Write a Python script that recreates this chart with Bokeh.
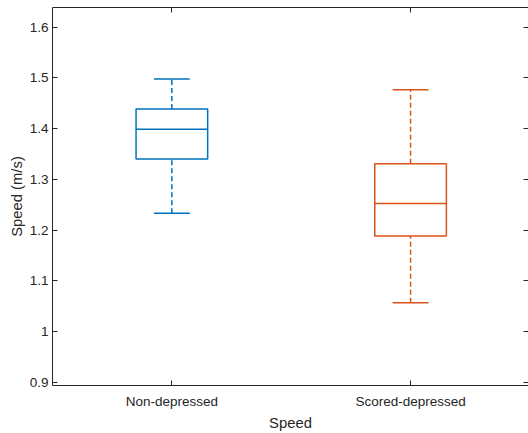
from bokeh.plotting import figure
from bokeh.models import ColumnDataSource, Range1d, FixedTicker, LinearAxis, CustomJSTickFormatter
from bokeh.transform import dodge
from bokeh.embed import file_html
from bokeh.resources import INLINE

# Data
categories = ["Non-depressed", "Scored-depressed"]
positions = [1, 2]
lower_whisker = [1.2336, 1.0573]
q1 = [1.340, 1.1886]
median = [1.399, 1.2526]
q3 = [1.4387, 1.331]
upper_whisker = [1.498, 1.4766]
colors = ["#0072BD", "#D95319"]
y_ticks = [0.9, 1.0, 1.1, 1.2, 1.3, 1.4, 1.5, 1.6]
y_tick_labels = ["0.9", "1", "1.1", "1.2", "1.3", "1.4", "1.5", "1.6"]

src = ColumnDataSource(dict(x=positions, lo=lower_whisker, q1=q1, med=median,
                            q3=q3, hi=upper_whisker, color=colors))

AX = "#262626"
FONT = "Liberation Sans"

p = figure(width=528, height=433, output_backend="svg", toolbar_location=None,
           x_range=Range1d(0.5, 2.494), y_range=Range1d(0.8941, 1.6386),
           min_border_left=52, min_border_right=0, min_border_top=7,
           min_border_bottom=46, background_fill_color="white",
           border_fill_color="white")
p.outline_line_color = None
p.grid.visible = False

BOX_W = 0.3
CAP_W = 0.15
LW = 1.5

# whiskers
p.segment(x0="x", x1="x", y0="q3", y1="hi", source=src, line_color="color",
          line_width=LW, line_dash="5 3")
p.segment(x0="x", x1="x", y0="lo", y1="q1", source=src, line_color="color",
          line_width=LW, line_dash="5 3")
# caps
p.segment(x0=dodge("x", -CAP_W / 2), x1=dodge("x", CAP_W / 2), y0="hi", y1="hi",
          source=src, line_color="color", line_width=LW)
p.segment(x0=dodge("x", -CAP_W / 2), x1=dodge("x", CAP_W / 2), y0="lo", y1="lo",
          source=src, line_color="color", line_width=LW)
# box
p.vbar(x="x", width=BOX_W, bottom="q1", top="q3", source=src, fill_color=None,
       line_color="color", line_width=LW)
# median
p.segment(x0=dodge("x", -BOX_W / 2), x1=dodge("x", BOX_W / 2), y0="med", y1="med",
          source=src, line_color="color", line_width=LW)

def style(ax):
    ax.axis_line_color = AX
    ax.axis_line_width = 1
    ax.major_tick_line_color = AX
    ax.major_tick_out = 0
    ax.major_tick_in = 5
    ax.minor_tick_line_color = None
    ax.major_label_text_color = AX
    ax.major_label_text_font = FONT
    ax.major_label_text_font_size = "13.5px"
    ax.axis_label_text_color = AX
    ax.axis_label_text_font = FONT
    ax.axis_label_text_font_size = "14.8px"
    ax.axis_label_text_font_style = "normal"

xa = p.xaxis[0]
style(xa)
xa.ticker = FixedTicker(ticks=positions)
xa.major_label_overrides = {pos: lab for pos, lab in zip(positions, categories)}
xa.axis_label = "Speed"
xa.major_label_standoff = 8
xa.axis_label_standoff = 3

ya = p.yaxis[0]
style(ya)
ya.ticker = FixedTicker(ticks=y_ticks)
ya.major_label_overrides = {t: l for t, l in zip(y_ticks, y_tick_labels)}
ya.axis_label = "Speed (m/s)"
ya.major_label_standoff = 4
ya.axis_label_standoff = 2

blank = CustomJSTickFormatter(code="return '';")

top = LinearAxis(ticker=FixedTicker(ticks=positions), formatter=blank)
style(top)
top.major_label_standoff = 0
p.add_layout(top, "above")

right = LinearAxis(ticker=FixedTicker(ticks=y_ticks), formatter=blank)
style(right)
right.axis_line_color = None
right.major_label_standoff = 0
p.add_layout(right, "right")

open("out.html", "w").write(file_html(p, INLINE))
